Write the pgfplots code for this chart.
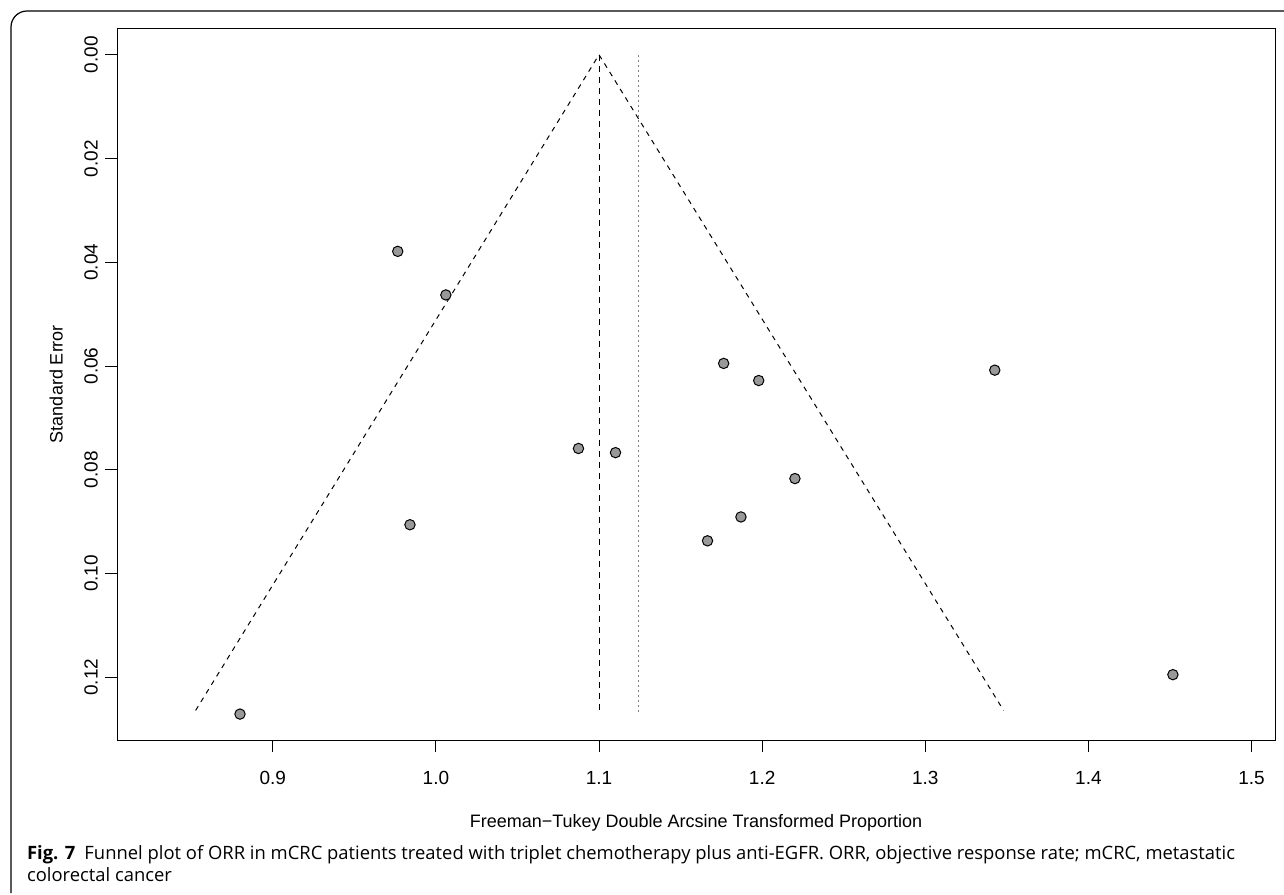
\documentclass[border=0pt]{standalone}
\usepackage{pgfplots}
\pgfplotsset{compat=1.18}
\usepackage{fontspec}
\setmainfont{Liberation Sans}
\newfontfamily\capfont{Open Sans}
\begin{document}
\begin{tikzpicture}[x=1pt,y=1pt]
\useasboundingbox (0,0) rectangle (642,447);
\draw[line width=0.6pt,rounded corners=8pt] (5.5,0.5) -- (5.5,441.5) -- (660,441.5);
\begin{axis}[at={(58.5pt,77pt)},anchor=south west,scale only axis,
  width=579pt,height=356pt,
  xmin=0.8045,xmax=1.5144,ymin=-0.00516,ymax=0.1321,y dir=reverse,
  xtick={0.9,1.0,...,1.5},ytick={0,0.02,...,0.12},
  xticklabels={0.9,1.0,1.1,1.2,1.3,1.4,1.5},
  yticklabels={0.00,0.02,0.04,0.06,0.08,0.10,0.12},
  tick align=outside,tick pos=left,major tick length=6pt,
  axis line style={line width=0.5pt},tick style={black,line width=0.5pt},
  xticklabel style={font=\fontsize{9.5}{11}\selectfont,yshift=-6pt},
  yticklabel style={font=\fontsize{9.5}{11}\selectfont,rotate=90,anchor=south,xshift=0pt},
  xlabel={Freeman−Tukey Double Arcsine Transformed Proportion},
  ylabel={Standard Error},
  label style={font=\fontsize{9}{11}\selectfont},
  xlabel style={yshift=-8pt},ylabel style={yshift=4pt},
  clip=true]
\addplot[black,dash pattern=on 2.5pt off 2.5pt,line width=0.5pt] coordinates {(0.8527,0.1264)(1.1,0)(1.348,0.1264)};
\addplot[black,dash pattern=on 3pt off 2.5pt,line width=0.5pt] coordinates {(1.1,0)(1.1,0.1271)};
\addplot[gray,dash pattern=on 1pt off 1.5pt,line width=0.5pt] coordinates {(1.1241,0)(1.1241,0.1271)};
\addplot[only marks,mark=*,mark size=2.6pt,mark options={fill=black!40,draw=black,line width=0.5pt}] coordinates {
(0.9766,0.0379)(1.0061,0.0463)(1.0874,0.0759)(1.1101,0.0767)(0.9841,0.0906)(0.8799,0.1271)
(1.1764,0.0595)(1.1979,0.0628)(1.3426,0.0608)(1.2201,0.0817)(1.1870,0.0891)(1.1665,0.0937)(1.4518,0.1195)};
\end{axis}
\node[anchor=base west,font=\capfont\fontsize{9.2}{11}\selectfont] at (10,17.5) {\textbf{Fig. 7}\enspace Funnel plot of ORR in mCRC patients treated with triplet chemotherapy plus anti-EGFR. ORR, objective response rate; mCRC, metastatic};
\node[anchor=base west,font=\capfont\fontsize{9.2}{11}\selectfont] at (10,6.5) {colorectal cancer};
\end{tikzpicture}
\end{document}
